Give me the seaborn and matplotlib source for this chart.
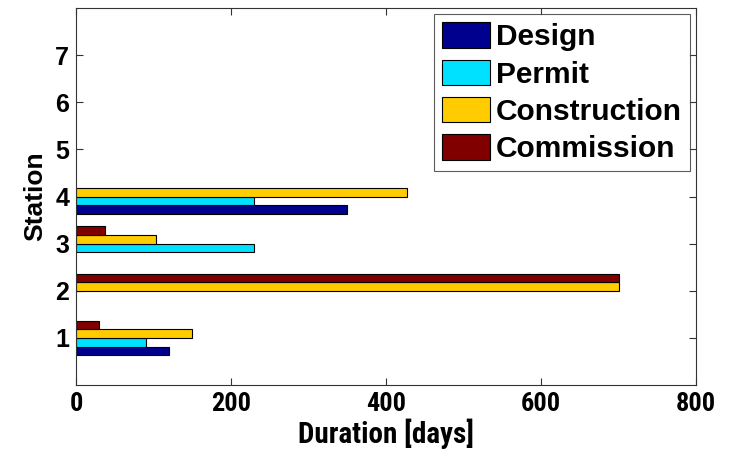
import matplotlib
matplotlib.use("Agg")
import matplotlib.pyplot as plt
import seaborn as sns
import pandas as pd

# chart data
stations = [1, 2, 3, 4, 5, 6, 7]
phases = ["Design", "Permit", "Construction", "Commission"]
design = [120, 0, 0, 350, 0, 0, 0]
permit = [90, 0, 230, 230, 0, 0, 0]
construction = [150, 700, 103, 427, 0, 0, 0]
commission = [30, 700, 37, 0, 0, 0, 0]
phase_colors = ["#00008F", "#00E1FF", "#FFCC00", "#800000"]
x_ticks = [0, 200, 400, 600, 800]

sns.set_style("white")
plt.rcParams["font.family"] = ["Liberation Sans", "DejaVu Sans"]
plt.rcParams["font.weight"] = "bold"
plt.rcParams["text.color"] = "black"
plt.rcParams["axes.labelcolor"] = "black"
plt.rcParams["xtick.color"] = "#333333"
plt.rcParams["ytick.color"] = "#333333"
plt.rcParams["xtick.labelcolor"] = "black"
plt.rcParams["ytick.labelcolor"] = "black"
narrow = ["Roboto Condensed", "PT Sans Narrow", "Liberation Sans"]

rows = []
for phase, vals in zip(phases, [design, permit, construction, commission]):
    for st, v in zip(stations, vals):
        rows.append({"Station": st, "Phase": phase, "Days": v})
df = pd.DataFrame(rows)
df = df[df["Days"] > 0]

fig = plt.figure(figsize=(7.35, 4.59), dpi=100)
ax = fig.add_axes([0.1034, 0.161, 0.8436, 0.8216])

sns.barplot(data=df, x="Days", y="Station", hue="Phase", hue_order=phases,
            palette=phase_colors, orient="h", native_scale=True, width=0.73,
            edgecolor="black", linewidth=0.8, saturation=1, ax=ax)

ax.set_xlim(0, 800)
ax.set_ylim(0, 8)
ax.set_xticks(x_ticks)
ax.set_yticks(stations)
ax.set_xticklabels([str(t) for t in x_ticks], fontsize=19, fontweight="heavy",
                   fontfamily=narrow)
ax.set_yticklabels([str(s) for s in stations], fontsize=18, fontweight="bold")
ax.set_xlabel("Duration [days]", fontsize=21, fontweight="heavy", labelpad=2,
              fontfamily=narrow)
ax.set_ylabel("Station", fontsize=19, fontweight="bold", labelpad=6)

ax.tick_params(direction="in", length=5, width=0.8, top=True, right=True,
               bottom=True, left=True, pad=5)
for sp in ax.spines.values():
    sp.set_visible(True)
    sp.set_color("#333333")
    sp.set_linewidth(0.8)

leg = ax.legend(loc="upper right", frameon=True, fancybox=False,
                edgecolor="#333333", handlelength=1.6, handleheight=0.95,
                handletextpad=0.2, borderpad=0.28, labelspacing=0.27,
                borderaxespad=0.2, prop={"weight": "bold", "size": 21.5})
leg.get_frame().set_linewidth(0.8)

fig.savefig("out.png", dpi=100)
